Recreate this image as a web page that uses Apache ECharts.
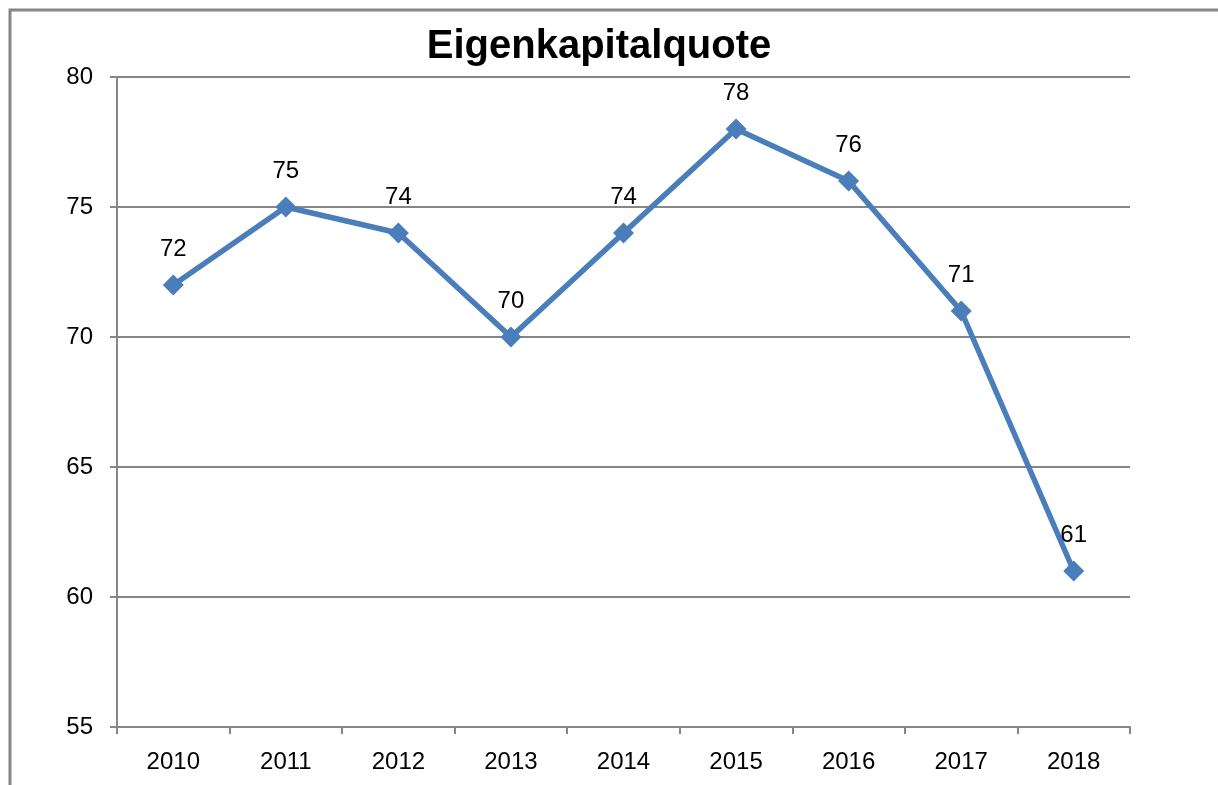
<!DOCTYPE html>
<html>
<head>
<meta charset="utf-8">
<title>Eigenkapitalquote</title>
<script src="https://cdn.jsdelivr.net/npm/echarts@6/dist/echarts.min.js"></script>
<style>
  html, body { margin: 0; padding: 0; background: #fff; }
  #chart { width: 1218px; height: 785px; }
</style>
</head>
<body>
<div id="chart"></div>
<script>
var years = ['2010', '2011', '2012', '2013', '2014', '2015', '2016', '2017', '2018']
var quote = [72, 75, 74, 70, 74, 78, 76, 71, 61]

var gray = '#868686'
var chart = echarts.init(document.getElementById('chart'))

var option = {
  animation: false,
  title: {
    text: 'Eigenkapitalquote',
    left: 594,
    textAlign: 'center',
    top: 22,
    textStyle: {
      fontFamily: 'Liberation Sans',
      fontWeight: 'bold',
      fontSize: 40,
      color: '#000'
    }
  },
  graphic: [
    {
      type: 'rect',
      shape: { x: 10, y: 10, width: 1400, height: 900 },
      style: { fill: 'none', stroke: gray, lineWidth: 3 },
      silent: true
    }
  ],
  grid: { left: 117, right: 88, top: 77, bottom: 58 },
  xAxis: {
    type: 'category',
    data: years,
    boundaryGap: true,
    axisLine: { lineStyle: { color: gray, width: 2 } },
    axisTick: { show: true, length: 7, lineStyle: { color: gray, width: 2 } },
    axisLabel: {
      color: '#000',
      fontFamily: 'Liberation Sans',
      fontSize: 24,
      margin: 23
    }
  },
  yAxis: {
    type: 'value',
    min: 55,
    max: 80,
    interval: 5,
    axisLine: { show: true, lineStyle: { color: gray, width: 2 } },
    axisTick: { show: true, length: 7, lineStyle: { color: gray, width: 2 } },
    axisLabel: {
      color: '#000',
      fontFamily: 'Liberation Sans',
      fontSize: 24,
      margin: 24
    },
    splitLine: { lineStyle: { color: gray, width: 2 } }
  },
  series: [
    {
      type: 'line',
      data: quote,
      symbol: 'diamond',
      symbolSize: 21,
      lineStyle: { color: '#4a7ebb', width: 5.5 },
      itemStyle: { color: '#4a7ebb' },
      label: {
        show: true,
        position: 'top',
        distance: 13,
        color: '#000',
        fontFamily: 'Liberation Sans',
        fontSize: 24
      }
    }
  ]
}

chart.setOption(option)
</script>
</body>
</html>
